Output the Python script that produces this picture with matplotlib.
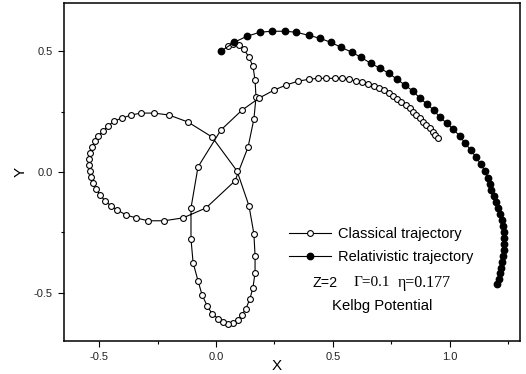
import numpy as np
import matplotlib
matplotlib.use('Agg')
import matplotlib.pyplot as plt
from matplotlib.ticker import MultipleLocator

plt.rcParams['font.family'] = ['Liberation Sans', 'DejaVu Sans']
plt.rcParams['axes.unicode_minus'] = False

# classical trajectory
cl_x = [0.051, 0.073, 0.098, 0.120, 0.141, 0.158, 0.167, 0.171, 0.162, 0.137,
        0.081, -0.043, -0.141, -0.222, -0.291, -0.342, -0.385, -0.423, -0.449, -0.474,
        -0.496, -0.513, -0.526, -0.534, -0.538, -0.543, -0.543, -0.538, -0.530, -0.517,
        -0.504, -0.483, -0.462, -0.436, -0.402, -0.363, -0.321, -0.265, -0.201, -0.120,
        -0.017, 0.090, 0.141, 0.162, 0.167, 0.167, 0.158, 0.145, 0.128, 0.111,
        0.094, 0.073, 0.051, 0.030, 0.009, -0.017, -0.038, -0.060, -0.077, -0.098,
        -0.107, -0.107, -0.077, 0.021, 0.111, 0.184, 0.248, 0.299, 0.350, 0.397,
        0.436, 0.470, 0.509, 0.538, 0.568, 0.598, 0.624, 0.650, 0.675, 0.697,
        0.718, 0.739, 0.756, 0.774, 0.791, 0.812, 0.829, 0.842, 0.855, 0.872,
        0.885, 0.897, 0.915, 0.927, 0.936, 0.949]
cl_y = [0.521, 0.529, 0.525, 0.508, 0.475, 0.438, 0.380, 0.310, 0.219, 0.103,
        -0.037, -0.149, -0.190, -0.202, -0.202, -0.190, -0.178, -0.157, -0.140, -0.120,
        -0.095, -0.070, -0.045, -0.021, 0.004, 0.029, 0.054, 0.079, 0.103, 0.128,
        0.149, 0.169, 0.190, 0.211, 0.223, 0.236, 0.244, 0.244, 0.236, 0.207,
        0.145, 0.004, -0.140, -0.256, -0.347, -0.417, -0.479, -0.525, -0.566, -0.591,
        -0.612, -0.624, -0.628, -0.620, -0.607, -0.587, -0.554, -0.508, -0.450, -0.376,
        -0.277, -0.149, 0.021, 0.174, 0.256, 0.306, 0.339, 0.360, 0.376, 0.384,
        0.388, 0.388, 0.388, 0.388, 0.384, 0.376, 0.372, 0.364, 0.355, 0.347,
        0.339, 0.326, 0.314, 0.302, 0.289, 0.277, 0.264, 0.248, 0.236, 0.223,
        0.207, 0.194, 0.182, 0.165, 0.153, 0.140]

# relativistic trajectory
rel_x = [0.021, 0.077, 0.132, 0.188, 0.239, 0.295, 0.342, 0.397, 0.444, 0.491,
         0.534, 0.581, 0.620, 0.662, 0.701, 0.739, 0.774, 0.808, 0.842, 0.872,
         0.902, 0.932, 0.957, 0.987, 1.013, 1.043, 1.064, 1.090, 1.111, 1.132,
         1.150, 1.162, 1.171, 1.175, 1.188, 1.197, 1.205, 1.214, 1.222, 1.226,
         1.231, 1.231, 1.231, 1.231, 1.226, 1.222, 1.218, 1.214, 1.209, 1.201]
rel_y = [0.500, 0.537, 0.562, 0.579, 0.583, 0.583, 0.579, 0.566, 0.554, 0.537,
         0.517, 0.496, 0.475, 0.450, 0.430, 0.409, 0.384, 0.360, 0.335, 0.306,
         0.281, 0.256, 0.227, 0.202, 0.178, 0.149, 0.120, 0.091, 0.062, 0.033,
         0.004, -0.025, -0.050, -0.074, -0.099, -0.124, -0.149, -0.174, -0.198, -0.223,
         -0.248, -0.273, -0.298, -0.322, -0.347, -0.372, -0.397, -0.417, -0.442, -0.463]

fig = plt.figure(figsize=(5.26, 3.74), dpi=100)
ax = fig.add_axes([0.1217, 0.0882, 0.8669, 0.9038])

ax.plot(cl_x, cl_y, color='black', lw=0.8, marker='o', ms=4.2,
        mfc='white', mec='black', mew=0.8, label='Classical trajectory')
ax.plot(rel_x, rel_y, color='black', lw=0.8, marker='o', ms=4.6,
        mfc='black', mec='black', label='Relativistic trajectory', zorder=3)

ax.set_xlim(-0.65, 1.30)
ax.set_ylim(-0.70, 0.70)
ax.xaxis.set_major_locator(MultipleLocator(0.5))
ax.xaxis.set_minor_locator(MultipleLocator(0.25))
ax.yaxis.set_major_locator(MultipleLocator(0.5))
ax.yaxis.set_minor_locator(MultipleLocator(0.25))
ax.xaxis.set_major_formatter(lambda v, p: f'{v:.1f}')
ax.yaxis.set_major_formatter(lambda v, p: f'{v:.1f}')
ax.tick_params(which='both', direction='out', top=False, right=False,
               labelsize=8, labelcolor='#222222', width=0.8)
ax.tick_params(which='major', length=4.5)
ax.tick_params(which='minor', length=2.5)
for s in ax.spines.values():
    s.set_linewidth(1.1)

ax.set_xlabel('X', fontsize=11)
ax.set_ylabel('Y', fontsize=11)
ax.xaxis.set_label_coords(0.467, -0.052)
ax.yaxis.set_label_coords(-0.08, 0.5)

ax.legend(loc='upper left', bbox_to_anchor=(0.493, 0.337), frameon=False,
          fontsize=10.5, handlelength=2.9, handletextpad=0.45, labelspacing=0.62,
          borderpad=0, borderaxespad=0)

ax.text(0.544, 0.172, 'Z=2', transform=ax.transAxes, fontsize=10.3, va='center')
ax.text(0.634, 0.172, '\u0393=0.1', transform=ax.transAxes, fontsize=11, va='center',
        family=['Liberation Serif', 'DejaVu Serif'])
ax.text(0.732, 0.172, '\u03b7=0.177', transform=ax.transAxes, fontsize=11.5, va='center',
        family=['Liberation Serif', 'DejaVu Serif'])
ax.text(0.697, 0.104, 'Kelbg Potential', transform=ax.transAxes, fontsize=10.7,
        ha='center', va='center')

fig.savefig('out.png', dpi=100)
